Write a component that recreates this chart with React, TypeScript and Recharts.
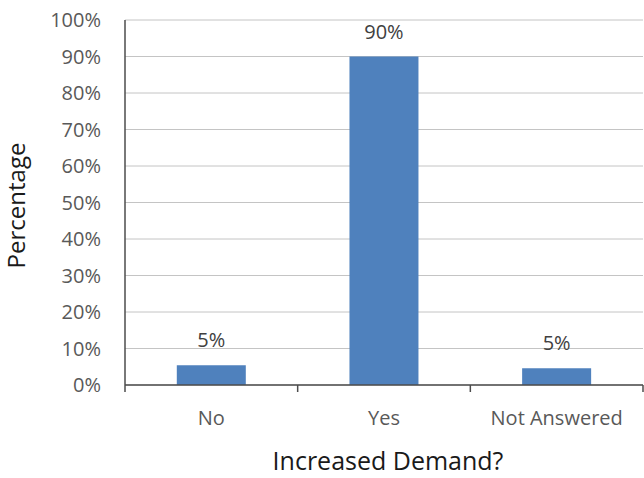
import React from "react";
import { BarChart, Bar, XAxis, YAxis, CartesianGrid, LabelList, Label } from "recharts";

const categories = ["No", "Yes", "Not Answered"];
const percentages = [5.4, 90, 4.6];
const yTicks = [0, 10, 20, 30, 40, 50, 60, 70, 80, 90, 100];

const data = categories.map((c, i) => ({ name: c, value: percentages[i] }));

const FONT = "'Open Sans', sans-serif";
const AXIS = "#4d4d4d";

const CHART_W = 644;
const CHART_H = 478;
const MARGIN = { top: 20, right: 1, bottom: 0, left: 0 };
const Y_AXIS_W = 125;
const BAND = (CHART_W - MARGIN.left - MARGIN.right - Y_AXIS_W) / categories.length;

function CatTick(props: any) {
  const { x, y, payload, index } = props;
  const half = BAND / 2;
  const axisY = y - 26;
  const lines = [x - half];
  if (index === categories.length - 1) lines.push(x + half);
  return (
    <g>
      {lines.map((lx, i) => (
        <line key={i} x1={lx} x2={lx} y1={axisY} y2={axisY + 7} stroke={AXIS} strokeWidth={1.5} />
      ))}
      <text
        x={x}
        y={y}
        dy="0.71em"
        textAnchor="middle"
        fill="#595959"
        fontSize={20}
        fontFamily={FONT}
      >
        {payload.value}
      </text>
    </g>
  );
}

export default function App() {
  return (
    <div style={{ position: "absolute", left: 0, top: 0, background: "#fff" }}>
      <BarChart
        width={CHART_W}
        height={CHART_H}
        data={data}
        margin={MARGIN}
        barCategoryGap="30%"
        style={{ fontFamily: FONT }}
      >
        <CartesianGrid vertical={false} stroke="#c4c4c4" />
        <XAxis
          dataKey="name"
          type="category"
          height={93}
          tickLine={false}
          tickSize={0}
          tickMargin={26}
          axisLine={{ stroke: AXIS, strokeWidth: 1.5 }}
          tick={<CatTick />}
        >
          <Label
            value="Increased Demand?"
            position="insideBottom"
            offset={8}
            dx={4}
            style={{ fill: "#1a1a1a", fontSize: 25, fontFamily: FONT }}
          />
        </XAxis>
        <YAxis
          width={Y_AXIS_W}
          domain={[0, 100]}
          ticks={yTicks}
          tickFormatter={(v: number) => `${v}%`}
          tickLine={false}
          tickSize={0}
          tickMargin={24}
          axisLine={{ stroke: AXIS, strokeWidth: 1.5 }}
          tick={{ fill: "#595959", fontSize: 20, fontFamily: FONT }}
        >
          <Label
            value="Percentage"
            angle={-90}
            position="insideLeft"
            offset={16}
            dy={3}
            style={{ textAnchor: "middle", fill: "#1a1a1a", fontSize: 24, fontFamily: FONT }}
          />
        </YAxis>
        <Bar dataKey="value" fill="#4F81BD" isAnimationActive={false}>
          <LabelList
            dataKey="value"
            position="top"
            offset={18}
            formatter={(v: number) => `${Math.round(v)}%`}
            style={{ fill: "#404040", fontSize: 20, fontFamily: FONT }}
          />
        </Bar>
      </BarChart>
    </div>
  );
}
